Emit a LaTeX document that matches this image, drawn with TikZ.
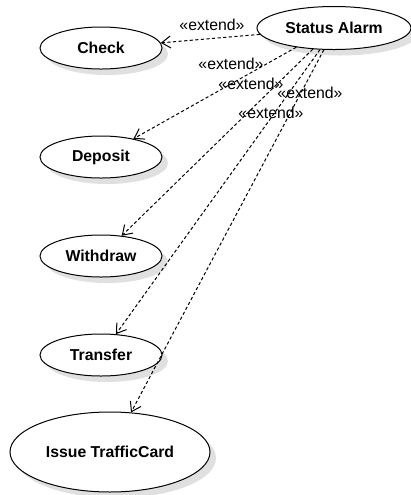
\documentclass[tikz,border=0pt]{standalone}
\usepackage{fontspec}
\setmainfont{Liberation Sans}
\usetikzlibrary{shapes.geometric,shadows,arrows.meta}
\begin{document}
\begin{tikzpicture}[x=0.5pt,y=-0.5pt,
    usecase/.style={ellipse,draw,line width=0.5pt,fill=white,inner sep=0pt,
        minimum width=61pt,minimum height=21pt,font=\fontsize{7.9}{9}\selectfont\bfseries,
        drop shadow={shadow xshift=3pt,shadow yshift=-3pt,fill=black!12,opacity=1}},
    ext/.style={dash pattern=on 1.6pt off 1.2pt,line width=0.5pt,-{Straight Barb[length=4.5pt,width=6pt]}},
    lbl/.style={font=\fontsize{7.9}{9}\selectfont,inner sep=0pt}]
    \useasboundingbox (0,0) rectangle (411,495);

    \node[usecase,minimum width=77pt,minimum height=21.5pt] (status) at (334,28) {Status Alarm};
    \node[usecase] (check) at (101,48) {Check};
    \node[usecase] (deposit) at (101,157) {Deposit};
    \node[usecase] (withdraw) at (101,256) {Withdraw};
    \node[usecase] (transfer) at (101,355) {Transfer};
    \node[usecase,minimum width=100pt,minimum height=40pt] (issue) at (110,452) {Issue TrafficCard};

    \draw[ext] (status) -- (check);
    \draw[ext] (status.207) -- (deposit);
    \draw[ext] (status.225) -- (withdraw);
    \draw[ext] (status.237) -- (transfer);
    \draw[ext] (status.245) -- (issue);

    % stereotype labels
    \node[lbl] at (212,25) {«extend»};
    \node[lbl] at (231,64) {«extend»};
    \node[lbl] at (251,84) {«extend»};
    \node[lbl] at (310,93) {«extend»};
    \node[lbl] at (271,113) {«extend»};
\end{tikzpicture}
\end{document}
